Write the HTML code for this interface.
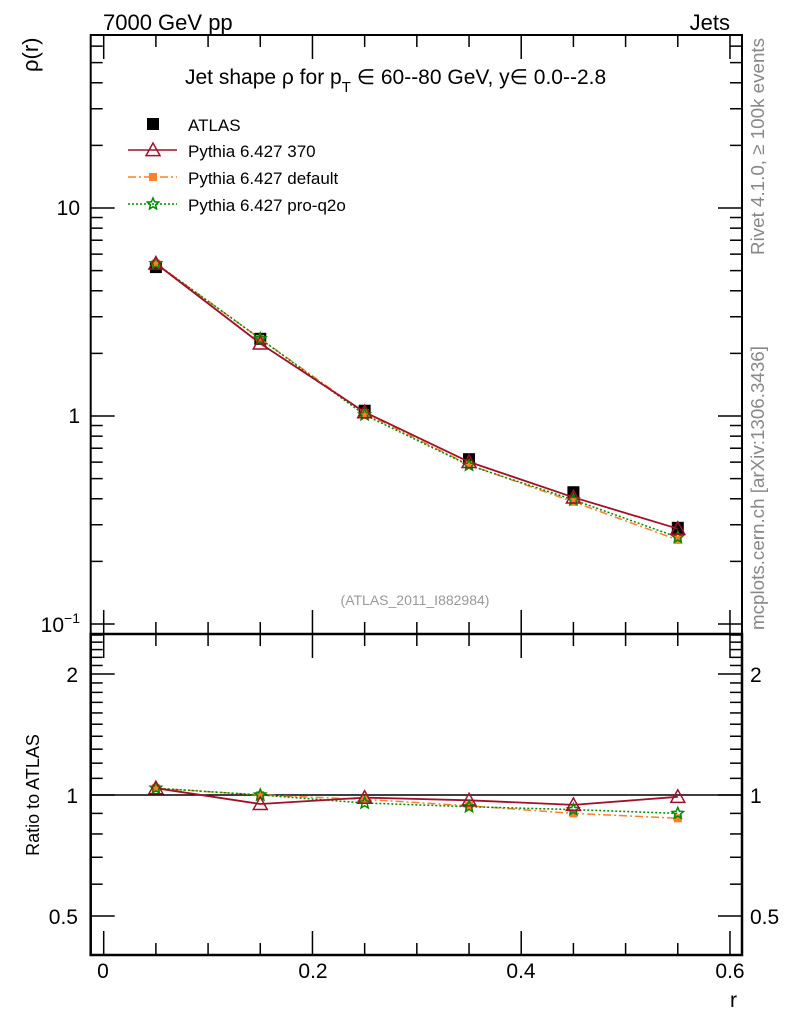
<!DOCTYPE html>
<html><head><meta charset="utf-8"><style>
body{margin:0;background:#fff;}
svg{display:block;font-family:"Liberation Sans",sans-serif;}
</style></head><body>
<svg id="s" width="786" height="1024" xmlns="http://www.w3.org/2000/svg">
<rect width="786" height="1024" fill="#fff"/>
<g id="g"></g>
<text x="103" y="30" font-size="22">7000 GeV pp</text>
<text x="730" y="30" font-size="22" text-anchor="end">Jets</text>
<text transform="translate(38,72) rotate(-90)" font-size="22">ρ(r)</text>
<text x="185" y="84" font-size="21">Jet shape ρ for p<tspan font-size="15" dy="8">T</tspan><tspan dy="-8"> ∈ 60--80 GeV, y∈ 0.0--2.8</tspan></text>
<text x="188" y="131" font-size="17">ATLAS</text>
<text x="188" y="157" font-size="17">Pythia 6.427 370</text>
<text x="188" y="184" font-size="17">Pythia 6.427 default</text>
<text x="188" y="211" font-size="17">Pythia 6.427 pro-q2o</text>
<text x="415" y="605" font-size="14" fill="#999" text-anchor="middle">(ATLAS_2011_I882984)</text>
<text transform="translate(764,255) rotate(-90)" font-size="18.8" fill="#888">Rivet 4.1.0, ≥ 100k events</text>
<text transform="translate(764,630) rotate(-90)" font-size="18.8" fill="#888">mcplots.cern.ch [arXiv:1306.3436]</text>
<text transform="translate(39,795) rotate(-90)" font-size="18" text-anchor="middle">Ratio to ATLAS</text>
<text x="737" y="1007" font-size="21" text-anchor="end">r</text>
</svg>
<script>
var g=document.getElementById('g'),h='';
function X(r){return 103.7+1043.8*r;}
function YM(v){return 416-208*Math.log10(v);}
function YR(v){return 795-402*Math.log10(v);}
var L=90.7,R=742,T=35,M=634,B=955;
function ln(a,b,c,d,col,w,da){h+='<line x1="'+a+'" y1="'+b+'" x2="'+c+'" y2="'+d+'" stroke="'+(col||'#000')+'" stroke-width="'+(w||1.5)+'"'+(da?' stroke-dasharray="'+da+'"':'')+'/>';}
function tx(x,y,s,anc,fs){h+='<text x="'+x+'" y="'+y+'" font-size="'+(fs||21)+'" text-anchor="'+(anc||'middle')+'">'+s+'</text>';}
for(var i=0;i<=12;i++){var r=i*0.05,x=X(r),maj=(i%4==0);var l=maj?24:12;
ln(x,T,x,T+l);ln(x,M,x,M-l);ln(x,M,x,M+l);ln(x,B,x,B-l);}
for(var e=-1;e<=1;e++){for(var k=1;k<=9;k++){var v=k*Math.pow(10,e),y=YM(v);if(y<T||y>M)continue;var l=k==1?24:12;ln(L,y,L+l,y);ln(R,y,R-l,y);}}
tx(80,215,'10','end');tx(80,423,'1','end');
h+='<text x="80" y="632" font-size="21" text-anchor="end">10<tspan font-size="14" dy="-9">−1</tspan></text>';
var rt=[0.4,0.5,0.6,0.7,0.8,0.9,1,2];for(var k=0;k<rt.length;k++){var y=YR(rt[k]),l=(rt[k]==0.5||rt[k]==1||rt[k]==2)?24:12;ln(L,y,L+l,y);ln(R,y,R-l,y);}
for(var v=1.1;v<2;v+=0.1){var y=YR(v);ln(L,y,L+12,y);ln(R,y,R-12,y);}
for(var v=2.1;v<2.55;v+=0.1){var y=YR(v);if(y>M){ln(L,y,L+12,y);ln(R,y,R-12,y);}}
tx(78,682,'2','end');tx(78,803,'1','end');tx(78,924,'0.5','end');
tx(750,682,'2','start');tx(750,803,'1','start');tx(750,924,'0.5','start');
tx(103,978,'0');tx(313,978,'0.2');tx(521,978,'0.4');tx(730,978,'0.6');
h+='<rect x="'+L+'" y="'+T+'" width="'+(R-L)+'" height="'+(M-T)+'" fill="none" stroke="#000" stroke-width="2"/>';
h+='<rect x="'+L+'" y="'+M+'" width="'+(R-L)+'" height="'+(B-M)+'" fill="none" stroke="#000" stroke-width="2.5"/>';
ln(L,795,R,795,'#000',1.5);
var rs=[0.05,0.15,0.25,0.35,0.45,0.55];
var at=[5.2,2.35,1.06,0.62,0.43,0.29];
var r370=[1.04,0.95,0.985,0.97,0.945,0.99],rdef=[1.04,1.0,0.975,0.94,0.9,0.875],rq=[1.04,1.0,0.955,0.935,0.92,0.9];
function poly(xs,ys,col,da,w){var p=xs.map(function(x,i){return x.toFixed(1)+','+ys[i].toFixed(1)}).join(' ');h+='<polyline points="'+p+'" fill="none" stroke="'+col+'" stroke-width="'+(w||1.5)+'"'+(da?' stroke-dasharray="'+da+'"':'')+'/>';}
function tri(x,y,s){h+='<polygon points="'+x+','+(y-s)+' '+(x-s)+','+(y+s*0.8)+' '+(x+s)+','+(y+s*0.8)+'" fill="none" stroke="#a0102a" stroke-width="1.5"/>';}
function sq(x,y,s,c){h+='<rect x="'+(x-s)+'" y="'+(y-s)+'" width="'+2*s+'" height="'+2*s+'" fill="'+c+'"/>';}
function star(x,y,s){var p=[];for(var i=0;i<10;i++){var a=-Math.PI/2+i*Math.PI/5,rr=i%2?s*0.45:s;p.push((x+rr*Math.cos(a)).toFixed(1)+','+(y+rr*Math.sin(a)).toFixed(1));}h+='<polygon points="'+p.join(' ')+'" fill="none" stroke="#008a00" stroke-width="1.5"/>';}
var xs=rs.map(X);
var y370=at.map(function(a,i){return YM(a*r370[i])}),ydef=at.map(function(a,i){return YM(a*rdef[i])}),yq=at.map(function(a,i){return YM(a*rq[i])}),ya=at.map(YM);
xs.forEach(function(x,i){sq(x,ya[i],6,'#000');});
poly(xs,ydef,'#ff7f2a','8,3,2,3');poly(xs,yq,'#008a00','2,2');poly(xs,y370,'#a0102a','',1.8);
xs.forEach(function(x,i){sq(x,ydef[i],4,'#ff7f2a');star(x,yq[i],6);tri(x,y370[i],7);});
var z370=r370.map(YR),zdef=rdef.map(YR),zq=rq.map(YR);
poly(xs,zdef,'#ff7f2a','8,3,2,3');poly(xs,zq,'#008a00','2,2');poly(xs,z370,'#a0102a','',1.8);
xs.forEach(function(x,i){sq(x,zdef[i],4,'#ff7f2a');star(x,zq[i],6);tri(x,z370[i],7);});
sq(153,124,6,'#000');
ln(128,150,177,150,'#a0102a',1.5);tri(153,150,7);
ln(128,177,177,177,'#ff7f2a',1.5,'8,3,2,3');sq(153,177,4,'#ff7f2a');
ln(128,204,177,204,'#008a00',1.5,'2,2');star(153,204,6);
g.innerHTML=h;
</script>
</body></html>
